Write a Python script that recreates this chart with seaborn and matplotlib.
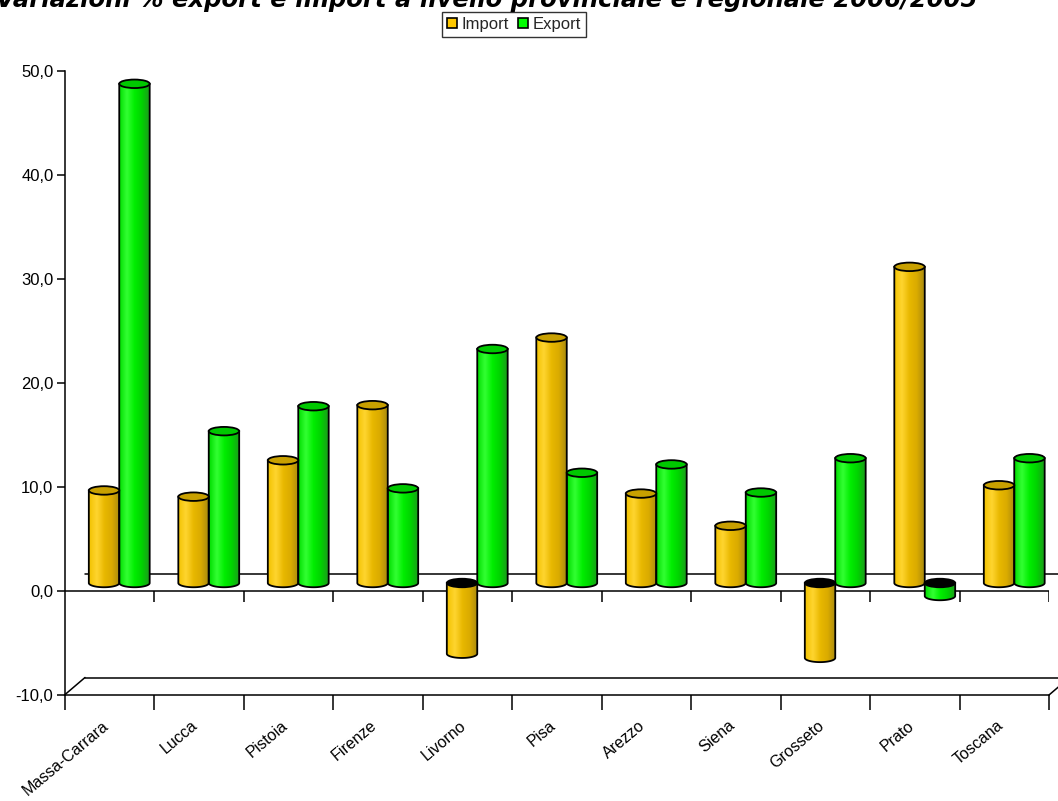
import numpy as np
import pandas as pd
import matplotlib
matplotlib.use("Agg")
import matplotlib.pyplot as plt
import matplotlib.transforms as mtransforms
from matplotlib.path import Path
from matplotlib.patches import PathPatch, Ellipse, Patch
from matplotlib.colors import LinearSegmentedColormap, to_hex
from matplotlib.ticker import FixedLocator, FuncFormatter
import seaborn as sns

# ---------------- data ----------------
provinces = ["Massa-Carrara", "Lucca", "Pistoia", "Firenze", "Livorno", "Pisa",
             "Arezzo", "Siena", "Grosseto", "Prato", "Toscana"]
import_values = [8.9, 8.3, 11.8, 17.1, -6.8, 23.6, 8.6, 5.5, -7.2, 30.4, 9.4]
export_values = [48.0, 14.6, 17.0, 9.1, 22.5, 10.6, 11.4, 8.7, 12.0, -1.25, 12.0]
series_names = ["Import", "Export"]
y_ticks = [-10, 0, 10, 20, 30, 40, 50]
title = "Variazioni % export e import a livello provinciale e regionale 2006/2005"

df = pd.DataFrame({
    "Provincia": provinces * 2,
    "Valore": import_values + export_values,
    "Serie": [series_names[0]] * len(provinces) + [series_names[1]] * len(provinces),
})

# ---------------- styles ----------------
legend_colors = {"Import": "#FFC800", "Export": "#00FF00"}
grad_colors = {
    "Import": ["#F2C200", "#FFD530", "#E8B800", "#D9AA00", "#A88A10"],
    "Export": ["#00DD00", "#33FF33", "#00EE00", "#00D200", "#1E9A1E"],
}
cap_colors = {"Import": "#C8A000", "Export": "#00C800"}

sns.set_theme(style="white")
plt.rcParams["font.family"] = ["Liberation Sans", "DejaVu Sans"]

W, H = 1058, 801
fig = plt.figure(figsize=(W / 100, H / 100), dpi=100)
fig.patch.set_facecolor("white")
ax_l, ax_r, ax_t, ax_b = 64.5, 1049.0, 71.0, 695.0
ax = fig.add_axes([ax_l / W, 1 - ax_b / H, (ax_r - ax_l) / W, (ax_b - ax_t) / H])
ax.set_facecolor("white")

pal = {k: legend_colors[k] for k in series_names}
sns.barplot(data=df, x="Provincia", y="Valore", hue="Serie", hue_order=series_names,
            order=provinces, palette=pal, width=0.68, saturation=1, ax=ax,
            legend=False, errorbar=None)

ax.set_xlim(-0.5, len(provinces) - 0.5)
ax.set_ylim(-10, 50)
ax.set_xlabel("")
ax.set_ylabel("")

px_per_unit = (ax_b - ax_t) / 60.0
bar_off = mtransforms.offset_copy(ax.transData, fig=fig, x=10, y=8, units="dots")
back_off = mtransforms.offset_copy(ax.transData, fig=fig, x=20.5, y=17.5, units="dots")

ell_h = 8.5 / px_per_unit

color_to_series = {to_hex(v): k for k, v in legend_colors.items()}

bars = [p for p in ax.patches]
for p in bars:
    ser = color_to_series.get(to_hex(p.get_facecolor()), "Import")
    x0 = p.get_x()
    w = p.get_width()
    y = p.get_y()
    h = p.get_height()
    lo, hi = min(y, y + h), max(y, y + h)
    p.set_visible(False)
    cx = x0 + w / 2
    t = np.linspace(np.pi, 2 * np.pi, 40)
    arc = np.column_stack([cx + (w / 2) * np.cos(t), lo + (ell_h / 2) * np.sin(t)])
    verts = np.vstack([[x0, hi], [x0, lo], arc, [x0 + w, lo], [x0 + w, hi], [x0, hi]])
    codes = [Path.MOVETO] + [Path.LINETO] * (len(verts) - 2) + [Path.CLOSEPOLY]
    body = PathPatch(Path(verts, codes), facecolor="none", edgecolor="black",
                     linewidth=1.3, transform=bar_off, zorder=3.2)
    ax.add_patch(body)
    cmap = LinearSegmentedColormap.from_list("c" + ser, grad_colors[ser])
    grad = np.linspace(0, 1, 64).reshape(1, -1)
    im = ax.imshow(grad, extent=[x0, x0 + w, lo - ell_h, hi], aspect="auto",
                   cmap=cmap, interpolation="bicubic", zorder=3.0)
    im.set_transform(bar_off)
    im.set_clip_path(body)
    is_neg = (y + h) < 0 or y < 0
    cap = Ellipse((cx, hi), width=w, height=ell_h,
                  facecolor="black" if is_neg else cap_colors[ser],
                  edgecolor="black", linewidth=1.3, transform=bar_off, zorder=3.4)
    ax.add_patch(cap)

ax.set_xlim(-0.5, len(provinces) - 0.5)
ax.set_ylim(-10, 50)

# ---------------- axes decoration ----------------
for s in ["top", "right"]:
    ax.spines[s].set_visible(False)
for s in ["left", "bottom"]:
    ax.spines[s].set_visible(True)
    ax.spines[s].set_color("black")
    ax.spines[s].set_linewidth(1.1)

bounds = np.arange(-0.5, len(provinces), 1.0)
centers = np.arange(len(provinces))
ax.xaxis.set_major_locator(FixedLocator(bounds))
ax.xaxis.set_minor_locator(FixedLocator(centers))
ax.set_xticklabels([""] * len(bounds))
ax.set_xticklabels(provinces, minor=True)
ax.tick_params(axis="x", which="major", direction="out", length=11, width=1.1,
               color="black", bottom=True)
ax.tick_params(axis="x", which="minor", length=0, pad=20.5, labelsize=11.5,
               labelcolor="black", bottom=True)
shift = mtransforms.ScaledTranslation(-3 / 100, 0, fig.dpi_scale_trans)
for lab in ax.get_xticklabels(minor=True):
    lab.set_rotation(40)
    lab.set_ha("right")
    lab.set_va("center")
    lab.set_rotation_mode("anchor")
    lab.set_transform(lab.get_transform() + shift)

ax.yaxis.set_major_locator(FixedLocator(y_ticks))
ax.yaxis.set_major_formatter(FuncFormatter(lambda v, pos: f"{v:.1f}".replace(".", ",")))
ax.tick_params(axis="y", direction="out", length=6, width=1.1, color="black",
               labelsize=12, labelcolor="black", left=True, pad=2)

# front zero line with ticks
ax.axhline(0, color="black", linewidth=1.1, zorder=2.5)
ax.vlines(bounds[1:], -10.5 / px_per_unit, 0, color="black", linewidth=1.1, zorder=2.5)

# back wall lines (depth offset)
x_full = [-0.5, len(provinces) - 0.5 + 1.0]
ax.plot(x_full, [0, 0], color="black", linewidth=1.1, transform=back_off,
        clip_on=False, zorder=2.0)
ax.plot(x_full, [-10, -10], color="black", linewidth=1.1, transform=back_off,
        clip_on=False, zorder=2.0)
for xc in [-0.5, len(provinces) - 0.5]:
    p0 = ax.transData.transform((xc, -10))
    p1 = back_off.transform((xc, -10))
    line = plt.Line2D([p0[0], p1[0]], [p0[1], p1[1]], color="black", linewidth=1.1,
                      clip_on=False)
    line.set_transform(mtransforms.IdentityTransform())
    fig.add_artist(line)

# ---------------- legend ----------------
handles = [Patch(facecolor=legend_colors[k], edgecolor="black", linewidth=1.2, label=k)
           for k in series_names]
leg = fig.legend(handles=handles, loc="upper center", ncol=2,
                 bbox_to_anchor=(514 / W, 1 - 12 / H), frameon=True, fontsize=12,
                 handlelength=0.6, handleheight=0.6, handletextpad=0.3,
                 columnspacing=0.5, borderpad=0.3, borderaxespad=0.0, fancybox=False)
leg.get_frame().set_edgecolor("black")
leg.get_frame().set_linewidth(1.0)

# ---------------- title (cut at the top edge, as in the reference) ----------------
tt = fig.text(977 / W, 1 - 6.5 / H, title, ha="right", va="baseline",
              fontsize=15, fontweight="bold", fontstyle="italic",
              family=["DejaVu Sans"], color="black")
renderer = fig.canvas.get_renderer()
wpx = tt.get_window_extent(renderer).width
tt.set_fontsize(15 * 984 / wpx)

fig.savefig("out.png", dpi=100, facecolor="white")
